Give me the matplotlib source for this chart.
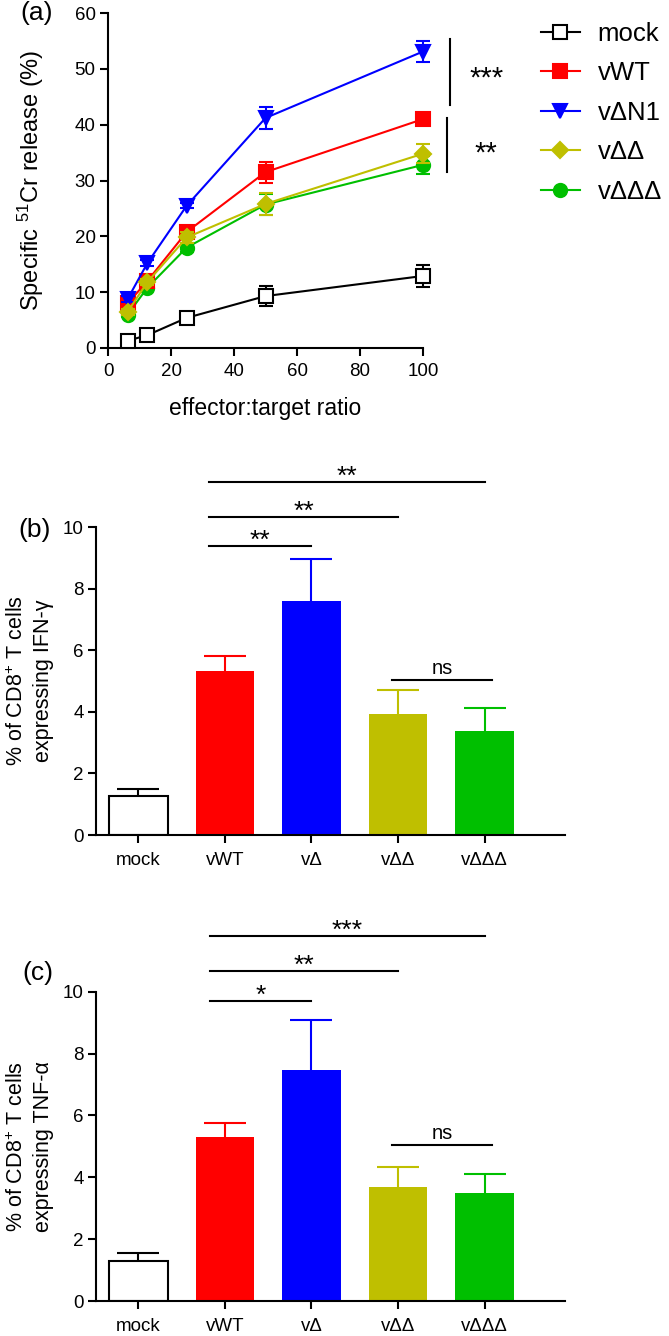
import matplotlib
matplotlib.use("Agg")
import matplotlib.pyplot as plt
from matplotlib.lines import Line2D
import numpy as np

plt.rcParams['font.family'] = ['Liberation Sans', 'DejaVu Sans']
plt.rcParams['mathtext.fontset'] = 'custom'
plt.rcParams['mathtext.rm'] = 'Liberation Sans'
plt.rcParams['mathtext.it'] = 'Liberation Sans:italic'
plt.rcParams['mathtext.bf'] = 'Liberation Sans:bold'

# ---------------- data ----------------
ratios = [6.25, 12.5, 25, 50, 100]
series_names = ['mock', 'vWT', 'vΔN1', 'vΔΔ', 'vΔΔΔ']
mock_vals = [1.3, 2.3, 5.4, 9.3, 12.9]
mock_err = [0.4, 0.5, 0.5, 1.8, 2.0]
vwt_vals = [8.0, 12.0, 20.8, 31.5, 41.0]
vwt_err = [0.5, 1.0, 1.0, 1.9, 0.5]
vdn1_vals = [8.8, 15.2, 25.5, 41.2, 53.1]
vdn1_err = [0.5, 0.5, 0.5, 1.9, 1.8]
vdd_vals = [6.5, 11.8, 19.8, 25.8, 34.8]
vdd_err = [0.5, 0.6, 1.0, 1.9, 1.7]
vddd_vals = [6.0, 10.8, 18.0, 25.7, 32.8]
vddd_err = [0.5, 0.5, 0.8, 1.8, 1.6]

bar_cats = ['mock', 'vWT', 'vΔ', 'vΔΔ', 'vΔΔΔ']
ifn_vals = [1.27, 5.33, 7.6, 3.92, 3.38]
ifn_err = [0.23, 0.47, 1.35, 0.78, 0.75]
tnf_vals = [1.3, 5.29, 7.47, 3.7, 3.48]
tnf_err = [0.24, 0.48, 1.62, 0.62, 0.63]

# significance: (start, end, height, label)
ifn_sig = [(0.82, 2.0, 9.38, '**'), (0.82, 3.0, 10.32, '**'),
           (0.82, 4.0, 11.47, '**'), (2.93, 4.09, 5.03, 'ns')]
tnf_sig = [(0.83, 2.0, 9.7, '*'), (0.83, 3.0, 10.67, '**'),
           (0.83, 4.0, 11.8, '***'), (2.93, 4.09, 5.03, 'ns')]
# panel (a) brackets: (x, y_top, y_bottom, label, label_x, label_baseline)
a_sig = [(108.5, 55.3, 43.5, '***', 120.3, 46.8),
         (107.5, 41.2, 31.5, '**', 120.0, 33.4)]

colors = ['black', '#ff0000', '#0000ff', '#bfbf00', '#00bf00']
bar_colors = ['white', '#ff0000', '#0000ff', '#bfbf00', '#00bf00']
bar_err_colors = ['black', '#ff0000', '#0000ff', '#bfbf00', '#00bf00']

W, H = 669, 1336
fig = plt.figure(figsize=(W / 100, H / 100), dpi=100)

def rect(l, t, r, b):
    return [l / W, 1 - b / H, (r - l) / W, (b - t) / H]

LW = 1.5

def style_axes(ax):
    for s in ['top', 'right']:
        ax.spines[s].set_visible(False)
    for s in ['left', 'bottom']:
        ax.spines[s].set_linewidth(LW)
    ax.tick_params(width=LW, length=6, labelsize=13.5, pad=3)

# ---------------- panel (a) ----------------
ax = fig.add_axes(rect(108, 13, 423, 348))
style_axes(ax)
all_vals = [mock_vals, vwt_vals, vdn1_vals, vdd_vals, vddd_vals]
all_err = [mock_err, vwt_err, vdn1_err, vdd_err, vddd_err]
markers = ['s', 's', 'v', 'D', 'o']
msizes = [9.5, 9.5, 10, 8.5, 9.5]
zord = [3, 4, 5, 6, 3.5]
handles = []
for i in range(5):
    mfc = 'white' if i == 0 else colors[i]
    ax.errorbar(ratios, all_vals[i], yerr=all_err[i], color=colors[i],
                marker=markers[i], markersize=msizes[i], mfc=mfc,
                mec=colors[i], mew=1.5, lw=1.5, capsize=5, capthick=1.5,
                elinewidth=1.5, zorder=zord[i], clip_on=False)
    handles.append(Line2D([], [], color=colors[i], marker=markers[i],
                          markersize=msizes[i], mfc=mfc, mec=colors[i],
                          mew=1.5, lw=1.5))
ax.set_xlim(0, 100)
ax.set_ylim(0, 60)
ax.set_xticks([0, 20, 40, 60, 80, 100])
ax.set_yticks([0, 10, 20, 30, 40, 50, 60])
ax.tick_params(axis='x', pad=5)
ax.set_xlabel('effector:target ratio', fontsize=16.5)
ax.xaxis.set_label_coords(0.5, -0.145)
ax.set_ylabel('Specific $^{51}$Cr release (%)', fontsize=17)
ax.yaxis.set_label_coords(-0.197, 0.5)
ax.text(-0.225, 1.0, '(a)', transform=ax.transAxes, fontsize=19,
        ha='center', va='center')
for (xx, yt, yb, lab, lx, ly) in a_sig:
    ax.plot([xx, xx], [yt, yb], color='black', lw=1.5, clip_on=False)
    ax.text(lx, ly, lab, fontsize=21, ha='center', va='baseline')
fig.legend(handles, series_names, loc='upper left',
           bbox_to_anchor=(541 / W, 1 - 22 / H), frameon=False,
           fontsize=18.5, handlelength=1.5, handletextpad=0.7,
           labelspacing=0.6, borderpad=0, borderaxespad=0)

# ---------------- bar panels ----------------
def bar_panel(box, vals, errs, sig, ylabel, tag, tag_xy):
    ax = fig.add_axes(rect(*box))
    style_axes(ax)
    x = np.arange(len(bar_cats))
    for i in range(len(x)):
        ax.bar(x[i], vals[i], width=0.68, color=bar_colors[i],
               edgecolor='black' if i == 0 else bar_colors[i],
               linewidth=1.5 if i == 0 else 0, zorder=2)
        _, caps, _ = ax.errorbar(x[i], vals[i], yerr=[[0], [errs[i]]],
                                 color=bar_err_colors[i], capsize=15,
                                 capthick=1.5, elinewidth=1.5, fmt='none',
                                 zorder=1)
        # keep only the upper cap
        for c in caps:
            if np.allclose(c.get_ydata(), vals[i]):
                c.set_visible(False)
    ax.set_xlim(-0.49, 4.93)
    ax.set_ylim(0, 10)
    ax.set_yticks([0, 2, 4, 6, 8, 10])
    ax.set_xticks(x)
    ax.set_xticklabels(bar_cats)
    ax.tick_params(axis='x', pad=6)
    ax.set_ylabel(ylabel, fontsize=15.5, linespacing=1.3)
    ax.yaxis.set_label_coords(-0.09, 0.5)
    for (a, b, h, lab) in sig:
        ax.plot([a, b], [h, h], color='black', lw=1.5, clip_on=False)
        if lab == 'ns':
            ax.text((a + b) / 2, h + 0.2, lab, fontsize=14.5, ha='center',
                    va='baseline', clip_on=False)
        else:
            ax.text((a + b) / 2, h - 0.06, lab, fontsize=19, ha='center',
                    va='baseline', clip_on=False)
    ax.text(tag_xy[0], tag_xy[1], tag, transform=fig.transFigure,
            fontsize=19, ha='center', va='center')
    return ax

bar_panel((96, 527, 565, 835), ifn_vals, ifn_err, ifn_sig,
          '% of CD8$^{+}$ T cells\nexpressing IFN-γ', '(b)',
          (35 / W, 1 - 530 / H))
bar_panel((96, 991.7, 565, 1301), tnf_vals, tnf_err, tnf_sig,
          '% of CD8$^{+}$ T cells\nexpressing TNF-α', '(c)',
          (38 / W, 1 - 973 / H))

fig.savefig('out.png', dpi=100)
